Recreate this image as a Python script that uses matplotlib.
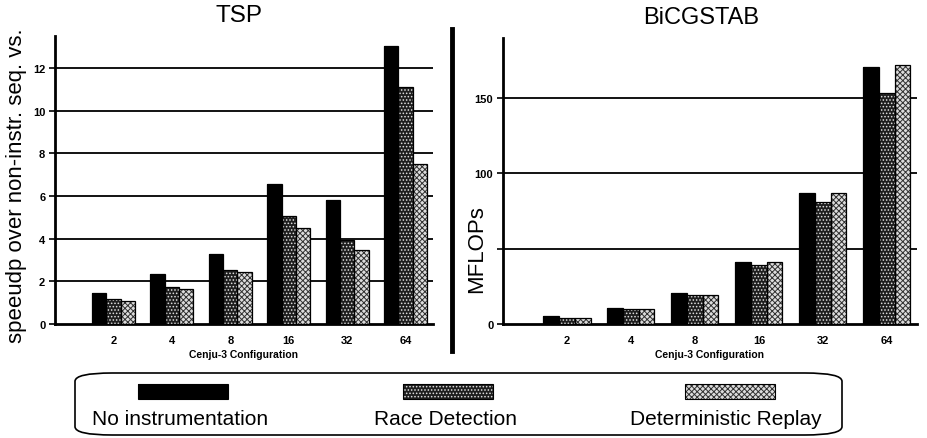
import matplotlib
matplotlib.use("Agg")
import matplotlib.pyplot as plt
from matplotlib.patches import FancyBboxPatch, Rectangle
from matplotlib.lines import Line2D
import numpy as np

plt.rcParams['font.family'] = ['Liberation Sans', 'DejaVu Sans']
plt.rcParams['hatch.linewidth'] = 0.7

configs = ["2", "4", "8", "16", "32", "64"]
series = ["No instrumentation", "Race Detection", "Deterministic Replay"]

tsp_none = [1.45, 2.35, 3.3, 6.55, 5.8, 13.05]
tsp_race = [1.15, 1.72, 2.55, 5.05, 3.95, 11.1]
tsp_replay = [1.1, 1.65, 2.45, 4.5, 3.45, 7.5]

bicg_none = [5, 10.5, 20.5, 41, 87, 171]
bicg_race = [4, 10, 19.5, 39.5, 81, 153.5]
bicg_replay = [4, 10, 19.5, 41, 87, 172]

tsp_yticks = [0, 2, 4, 6, 8, 10, 12]
bicg_yticks = [0, 50, 100, 150]
bicg_yticklabels = ["0", "", "100", "150"]

W, H = 928, 439
fig = plt.figure(figsize=(W / 100, H / 100), dpi=100)

styles = [
    dict(facecolor="black", edgecolor="black", hatch=None),
    dict(facecolor="#1e1e1e", edgecolor="#e0e0e0", hatch="....."),
    dict(facecolor="#dcdcdc", edgecolor="#303030", hatch="xxxxxx"),
]


def fx(px):
    return px / W


def fy(py):
    return 1 - py / H


def draw_panel(rect, data, yticks, ylim, ylabel, yticklabels=None):
    ax = fig.add_axes(rect)
    x = np.arange(1, len(configs) + 1)
    w = 0.245
    for i, (vals, st) in enumerate(zip(data, styles)):
        ax.bar(x + (i - 1) * w, vals, width=w, facecolor=st["facecolor"],
               edgecolor=st["edgecolor"], hatch=st["hatch"], linewidth=0, zorder=3)
        ax.bar(x + (i - 1) * w, vals, width=w, facecolor="none", edgecolor="black",
               linewidth=0.9, zorder=4)
    ax.set_xlim(0, 6.47)
    ax.set_ylim(*ylim)
    ax.set_xticks(x)
    ax.set_xticklabels(configs, fontsize=8, fontweight="bold")
    ax.set_yticks(yticks)
    ax.set_yticklabels(yticklabels if yticklabels else [str(t) for t in yticks],
                       fontsize=8, fontweight="bold")
    for t in yticks[1:]:
        ax.axhline(t, color="black", linewidth=1.3, zorder=1)
    for s in ["top", "right"]:
        ax.spines[s].set_visible(False)
    ax.spines["left"].set_linewidth(2)
    ax.spines["bottom"].set_linewidth(2)
    ax.tick_params(axis="x", length=0, pad=8)
    ax.tick_params(axis="y", length=4, width=1.2, pad=3)
    ax.set_xlabel("Cenju-3 Configuration", fontsize=7.5, fontweight="bold", labelpad=3)
    ax.set_ylabel(ylabel, fontsize=16)
    return ax


ax1 = draw_panel([fx(55), fy(325), fx(433) - fx(55), fy(37) - fy(325)],
                 [tsp_none, tsp_race, tsp_replay], tsp_yticks, (0, 13.5),
                 "speeudp over non-instr. seq. vs.")
ax1.yaxis.set_label_coords(-0.074, 0.484)

ax2 = draw_panel([fx(503), fy(325), fx(917) - fx(503), fy(39) - fy(325)],
                 [bicg_none, bicg_race, bicg_replay], bicg_yticks, (0, 190),
                 "MFLOPs", bicg_yticklabels)
ax2.yaxis.set_label_coords(-0.039, 0.266)

fig.text(fx(239), fy(16), "TSP", fontsize=17.5, ha="center", va="center")
fig.text(fx(701), fy(18), "BiCGSTAB", fontsize=17, ha="center", va="center")

# divider
fig.add_artist(Line2D([fx(452), fx(452)], [fy(30), fy(352)], color="black", linewidth=3.5))

# legend box
box = FancyBboxPatch((fx(75), fy(436)), fx(842) - fx(75), fy(374) - fy(436),
                     boxstyle="round,pad=0,rounding_size=0.04", transform=fig.transFigure,
                     facecolor="white", edgecolor="black", linewidth=1.2,
                     mutation_aspect=H / W)
fig.add_artist(box)

patch_x = [138, 403, 685]
text_x = [92, 374, 630]
for px, tx, st, name in zip(patch_x, text_x, styles, series):
    fig.add_artist(Rectangle((fx(px), fy(400)), fx(90), 15 / H, transform=fig.transFigure,
                             facecolor=st["facecolor"], edgecolor=st["edgecolor"],
                             hatch=st["hatch"], linewidth=0))
    fig.add_artist(Rectangle((fx(px), fy(400)), fx(90), 15 / H, transform=fig.transFigure,
                             facecolor="none", edgecolor="black", linewidth=0.8))
    fig.text(fx(tx), fy(420), name, fontsize=15, ha="left", va="center")

fig.savefig("out.png", dpi=100)
